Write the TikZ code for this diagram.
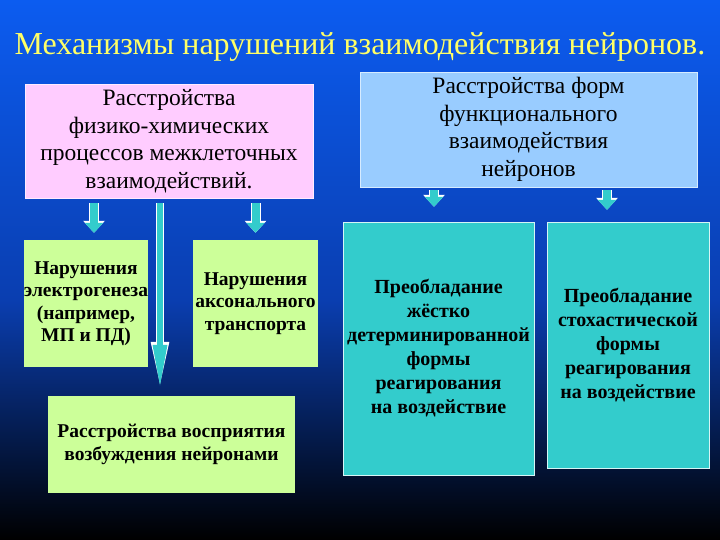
\documentclass[tikz,border=0pt]{standalone}
\usepackage{fontspec}
\setmainfont{Liberation Serif}
\usetikzlibrary{arrows.meta}
\definecolor{bgtop}{RGB}{12,92,240}
\definecolor{bgmid}{RGB}{10,62,176}
\definecolor{bgdark}{RGB}{6,34,100}
\definecolor{pinkfill}{RGB}{255,204,255}
\definecolor{bluefill}{RGB}{153,204,255}
\definecolor{greenfill}{RGB}{204,255,153}
\definecolor{tealfill}{RGB}{51,204,204}
\definecolor{titleyellow}{RGB}{255,255,102}
\begin{document}
\begin{tikzpicture}[x=1pt, y=-1pt,
    panel/.style={inner sep=0pt, align=center, text=black},
    toppanel/.style={panel, font=\fontsize{23.5}{27.5}\selectfont},
    lowpanel/.style={panel, font=\bfseries\fontsize{19.5}{22.5}\selectfont},
    arr/.style={line width=8pt, draw=tealfill, shorten <=#1,
        -{Triangle[width=18pt,length=10pt]},
        preaction={draw=white, line width=10pt, -{Triangle[width=21pt,length=12pt]}}},
    longarr/.style={line width=6pt, draw=tealfill, shorten <=5pt, shorten >=6pt,
        -{Triangle[width=13pt,length=45pt]},
        preaction={draw=white, line width=8pt, -{Triangle[width=16pt,length=48pt]}}}]
  \useasboundingbox (0,0) rectangle (720,540);
  % background
  \shade[top color=bgtop, bottom color=bgmid] (0,0) rectangle (720,300);
  \shade[top color=bgmid, middle color=bgdark, bottom color=black] (0,300) rectangle (720,540);

  \node[font=\fontsize{32}{38}\selectfont, text=titleyellow] (title) at (360,47)
    {Механизмы нарушений взаимодействия нейронов.};

  % upper boxes
  \node[toppanel, fill=pinkfill, draw=pinkfill!40!white, minimum width=288pt, minimum height=114pt]
    (physchem) at (169,141)
    {Расстройства\\ физико-химических\\ процессов межклеточных\\ взаимодействий.};
  \node[toppanel, fill=bluefill, draw=bluefill!40!white, minimum width=337pt, minimum height=115pt]
    (funcform) at (528.5,129.5)
    {Расстройства форм\\ функционального\\ взаимодействия\\ нейронов};

  % lower boxes
  \node[lowpanel, fill=greenfill, minimum width=118pt, minimum height=127pt]
    (electro) at (86,303.5)
    {Нарушения\\ электрогенеза\\ (например,\\ МП и ПД)};
  \node[lowpanel, fill=greenfill, minimum width=125pt, minimum height=127pt]
    (axonal) at (255.5,303.5)
    {Нарушения\\ аксонального\\ транспорта};
  \node[lowpanel, fill=greenfill, minimum width=247pt, minimum height=97pt]
    (percept) at (171.5,444.5)
    {Расстройства восприятия\\ возбуждения нейронами};
  \node[lowpanel, font=\bfseries\fontsize{20}{24}\selectfont, fill=tealfill, draw=white!80!tealfill,
    minimum width=191pt, minimum height=253pt]
    (determ) at (438.5,348.5)
    {Преобладание\\ жёстко\\ детерминированной\\ формы\\ реагирования\\ на воздействие};
  \node[lowpanel, font=\bfseries\fontsize{20}{24}\selectfont, fill=tealfill, draw=white!80!tealfill,
    minimum width=162pt, minimum height=246pt]
    (stoch) at (628,345)
    {Преобладание\\ стохастической\\ формы\\ реагирования\\ на воздействие};

  % arrows
  \draw[arr=5pt, shorten >=7pt] ([xshift=8pt]electro.north |- physchem.south) -- ([xshift=8pt]electro.north);
  \draw[arr=5pt, shorten >=7pt] (axonal.north |- physchem.south) -- (axonal.north);
  \draw[longarr] ([xshift=-11.5pt]percept.north |- physchem.south) -- ([xshift=-11.5pt]percept.north);
  \draw[arr=3pt, shorten >=15pt] ([xshift=-4.5pt]determ.north |- funcform.south) -- ([xshift=-4.5pt]determ.north);
  \draw[arr=3pt, shorten >=12pt] ([xshift=-21pt]stoch.north |- funcform.south) -- ([xshift=-21pt]stoch.north);
\end{tikzpicture}
\end{document}
